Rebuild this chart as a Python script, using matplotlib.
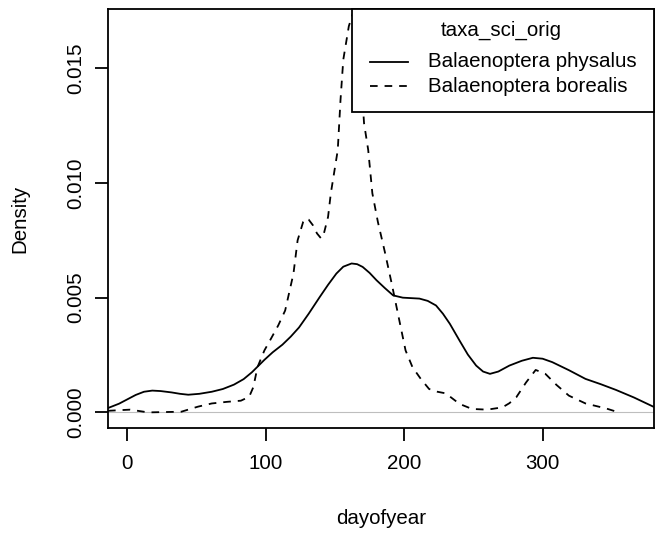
import matplotlib
matplotlib.use("Agg")
import matplotlib.pyplot as plt
from matplotlib.patches import Rectangle
from matplotlib.lines import Line2D

plt.rcParams['font.family'] = ['Liberation Sans', 'DejaVu Sans']
plt.rcParams['lines.scale_dashes'] = False

# ---- data ----
physalus_x = [-14, -6, 0, 6, 12, 18, 24, 32, 38, 44, 52, 61, 69, 77, 84, 90, 99, 105, 112, 118, 124, 131,
              139, 145, 151, 156, 162, 166, 170, 175, 180, 186, 192, 199, 205, 211, 217, 223, 228,
              233, 240, 246, 252, 257, 262, 268, 276, 285, 293, 300, 307, 319, 331, 342, 353, 366, 380]
physalus_y = [0.00019, 0.00038, 0.00057, 0.00076, 0.00090, 0.00095, 0.00093, 0.00087, 0.00081, 0.00077,
              0.00081, 0.00090, 0.00102, 0.00121, 0.00145, 0.00175, 0.00229, 0.00262, 0.00295,
              0.00330, 0.00370, 0.00430, 0.00503, 0.00556, 0.00605, 0.00635, 0.00649, 0.00646,
              0.00634, 0.00608, 0.00576, 0.00542, 0.00510, 0.00500, 0.00498, 0.00496, 0.00486,
              0.00466, 0.00430, 0.00386, 0.00313, 0.00252, 0.00204, 0.00178, 0.00168, 0.00178,
              0.00204, 0.00225, 0.00238, 0.00234, 0.00219, 0.00184, 0.00146, 0.00123, 0.00098,
              0.00065, 0.00025]

borealis_x = [-14, 2, 15, 39, 51, 61, 72, 82, 88, 91, 94, 99, 103, 109, 114, 120, 123, 127, 129,
              131, 134, 137, 140, 142, 145, 147, 149, 152, 154, 156, 160, 164, 168, 171, 174, 177,
              181, 186, 191, 197, 201, 206, 212, 218, 224, 230, 235, 240, 249, 260, 271, 276, 281,
              288, 295, 302, 310, 319, 331, 346, 355]
borealis_y = [0.00007, 0.00012, 0.00000, 0.00003, 0.00025, 0.00039, 0.00046, 0.00051, 0.00068, 0.00110,
              0.00197, 0.00270, 0.00313, 0.00379, 0.00444, 0.00605, 0.00750, 0.00830, 0.00845,
              0.00840, 0.00816, 0.00780, 0.00758, 0.00780, 0.00852, 0.00955, 0.01030, 0.01143, 0.01362,
              0.01537, 0.01683, 0.01760, 0.01540, 0.01260, 0.01144, 0.00955,
              0.00830, 0.00700, 0.00561, 0.00386, 0.00270, 0.00197, 0.00146, 0.00102, 0.00090,
              0.00083, 0.00060, 0.00037, 0.00015, 0.00012, 0.00022, 0.00040, 0.00066,
              0.00130, 0.00185, 0.00168, 0.00120, 0.00073, 0.00039, 0.00017, 0.00000]

x_ticks = [0, 100, 200, 300]
y_ticks = [0.000, 0.005, 0.010, 0.015]
y_tick_labels = ["0.000", "0.005", "0.010", "0.015"]
legend_title = "taxa_sci_orig"
legend_labels = ["Balaenoptera physalus", "Balaenoptera borealis"]

FS = 14.76
LW = 1.3
DASH = (0, (5.5, 5.0))

fig = plt.figure(figsize=(6.59, 5.34), dpi=100)
ax = fig.add_axes([108/659, 1 - 428/534, 546/659, 419/534])

ax.axhline(0, color='#BEBEBE', lw=0.8, zorder=1)
ax.plot(physalus_x, physalus_y, color='black', lw=LW, solid_joinstyle='round', zorder=2)
ax.plot(borealis_x, borealis_y, color='black', lw=LW, linestyle=DASH, zorder=2)

ax.set_xlim(-14, 380.5)
ax.set_ylim(-0.00068, 0.01758)

ax.set_xticks(x_ticks)
ax.set_xticklabels([str(v) for v in x_ticks])
ax.set_yticks(y_ticks)
ax.set_yticklabels(y_tick_labels, rotation=90, va='center')

ax.tick_params(axis='both', direction='out', length=9.4, width=LW, labelsize=FS, color='black')
ax.tick_params(axis='x', pad=9)
ax.tick_params(axis='y', pad=7)
for s in ax.spines.values():
    s.set_linewidth(LW)

ax.set_xlabel("dayofyear", fontsize=FS, va='center')
ax.xaxis.set_label_coords(0.5, (428 - 518) / 419)
ax.set_ylabel("Density", fontsize=FS, va='center')
ax.yaxis.set_label_coords((19.5 - 108) / 546, 0.5)

# legend box (R style, top-right)
lx0 = (351.7 - 108) / 546
ly0 = (428 - 111.7) / 419
ax.add_patch(Rectangle((lx0, ly0), 1 - lx0, 1 - ly0, transform=ax.transAxes,
                       facecolor='white', edgecolor='black', lw=LW, zorder=5, clip_on=False))
ax.text((501.7 - 108) / 546, (428 - 30) / 419, legend_title, transform=ax.transAxes,
        ha='center', va='center', fontsize=FS, zorder=6)
hx0 = (370 - 108) / 546
hx1 = (408 - 108) / 546
tx = (428 - 108) / 546
rows = [(428 - 61.7) / 419, (428 - 86) / 419]
styles = ['-', DASH]
for yy, lab, st in zip(rows, legend_labels, styles):
    ax.add_line(Line2D([hx0, hx1], [yy, yy], transform=ax.transAxes, color='black',
                       lw=LW, linestyle=st, zorder=6))
    ax.text(tx, yy, lab, transform=ax.transAxes, ha='left', va='center', fontsize=FS, zorder=6)

fig.savefig("out.png", dpi=100)
